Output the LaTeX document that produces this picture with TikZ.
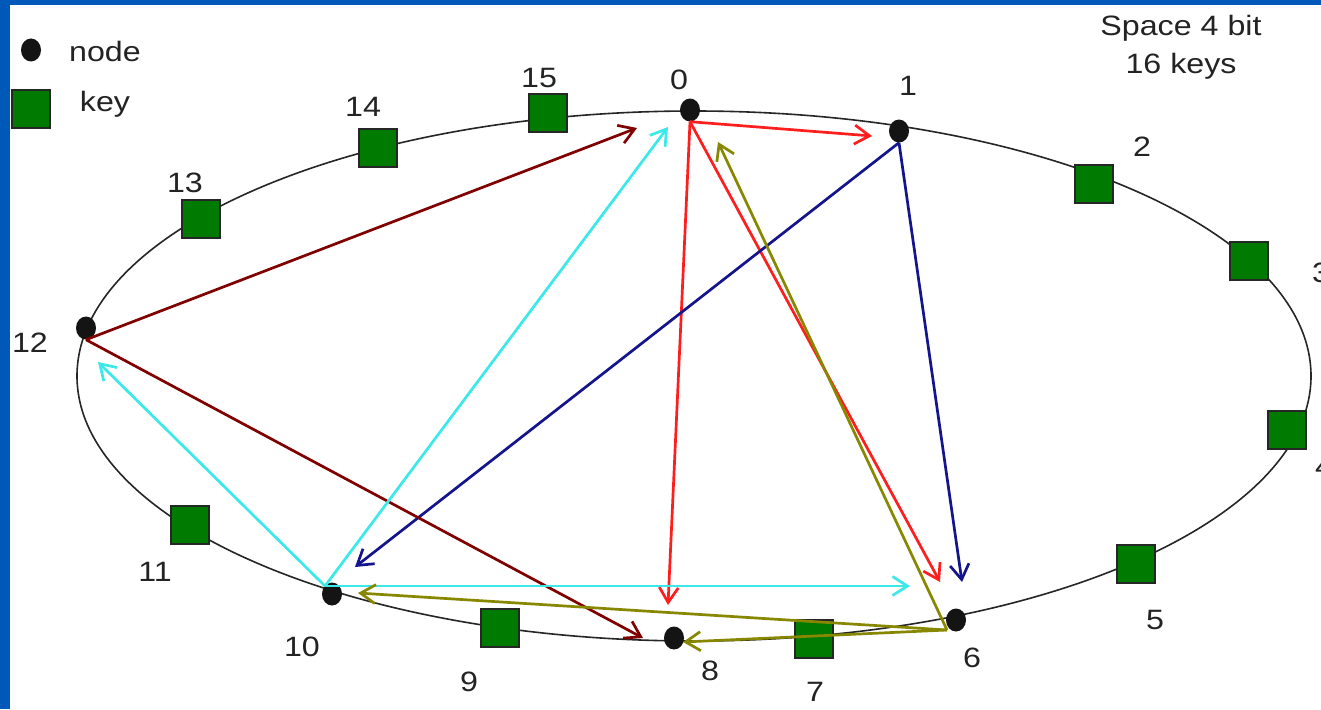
\documentclass[tikz,border=0pt]{standalone}
\usepackage{fontspec}
\setmainfont{Liberation Sans}[FakeStretch=1.15]
\usetikzlibrary{arrows.meta,shapes.geometric}
\definecolor{slideblue}{RGB}{0,88,184}
\definecolor{keygreen}{RGB}{0,122,0}
\definecolor{cyanarr}{RGB}{60,232,232}
\definecolor{redarr}{RGB}{255,30,30}
\definecolor{maroonarr}{RGB}{128,0,0}
\definecolor{navyarr}{RGB}{20,20,140}
\definecolor{olivearr}{RGB}{135,135,0}
\definecolor{txt}{RGB}{35,35,35}
\begin{document}
\begin{tikzpicture}[x=1pt,y=-1pt,
  dot/.style={ellipse,fill=black!92,inner sep=0pt,minimum width=20pt,minimum height=23pt},
  keybox/.style={rectangle,fill=keygreen,draw=black!85,line width=1.2pt,inner sep=0pt,minimum size=38pt},
  lbl/.style={text=txt,font=\fontsize{28}{38}\selectfont,inner sep=0pt},
  arr/.style={line width=2.7pt,-{Straight Barb[length=15pt,width=19pt,line width=2.7pt]}}]
\useasboundingbox (0,0) rectangle (1321,709);
\clip (0,0) rectangle (1321,709);
\fill[white] (0,0) rectangle (1321,709);
\fill[slideblue] (0,0) rectangle (10,709);
\fill[slideblue] (0,0) rectangle (1321,5);

% ring
\draw[line width=1.6pt,black!85] (694,376) ellipse [x radius=617pt, y radius=265pt];

% keys
\node[keybox] (k2)  at (1094,184) {};
\node[keybox] (k3)  at (1249,261) {};
\node[keybox] (k4)  at (1287,430) {};
\node[keybox] (k5)  at (1136,564) {};
\node[keybox] (k7)  at (814,639) {};
\node[keybox] (k9)  at (500,628) {};
\node[keybox] (k11) at (190,525) {};
\node[keybox] (k13) at (201,219) {};
\node[keybox] (k14) at (378,148) {};
\node[keybox] (k15) at (548,113) {};

% nodes
\node[dot] (n0)  at (690,110) {};
\node[dot] (n1)  at (899,131) {};
\node[dot] (n6)  at (956,620) {};
\node[dot] (n8)  at (674,638) {};
\node[dot] (n10) at (332,594) {};
\node[dot] (n12) at (86,328) {};

% labels
\node[lbl] (l0)  at (679,80)  {0};
\node[lbl] (l1)  at (908,86)  {1};
\node[lbl] (l2)  at (1142,147) {2};
\node[lbl,anchor=west] (l3) at (1312,273) {3};
\node[lbl,anchor=west] (l4) at (1315,467) {4};
\node[lbl] (l5)  at (1155,620) {5};
\node[lbl] (l6)  at (972,658) {6};
\node[lbl] (l7)  at (815,692) {7};
\node[lbl] (l8)  at (710,671) {8};
\node[lbl] (l9)  at (469,682) {9};
\node[lbl] (l10) at (302,647) {10};
\node[lbl] (l11) at (155,572) {11};
\node[lbl] (l12) at (30,343)  {12};
\node[lbl] (l13) at (185,183) {13};
\node[lbl] (l14) at (363,107) {14};
\node[lbl] (l15) at (539,78)  {15};
\node[lbl,align=center] (title) at (1181,47) {Space 4 bit\\16 keys};

% legend
\node[dot] (legdot) at (31,50) {};
\node[lbl] (legnode) at (105,51) {node};
\node[keybox] (legkey) at (31,109) {};
\node[lbl] (legkeyt) at (105,104) {key};

% arrow tips
\coordinate (t01)  at (872,136);
\coordinate (t08)  at (668,605);
\coordinate (t06)  at (940,582);
\coordinate (t16)  at (962,582);
\coordinate (t110) at (355,567);
\coordinate (t120) at (637,128);
\coordinate (t128) at (643,638);
\coordinate (t100) at (668,127);
\coordinate (t1012) at (98,362);
\coordinate (t106) at (910,586);
\coordinate (t60)  at (718,142);
\coordinate (t610) at (358,593);
\coordinate (t68)  at (683,642);
\coordinate (o10)  at (325,586);
\coordinate (o6)   at (947,630);

% red: from 0
\draw[arr,redarr] (n0.south) -- (t01);
\draw[arr,redarr] (n0.south) -- (t08);
\draw[arr,redarr] (n0.south) -- (t06);
% navy: from 1
\draw[arr,navyarr] (n1.south) -- (t16);
\draw[arr,navyarr] (n1.south) -- (t110);
% maroon: from 12
\draw[arr,maroonarr] (n12.south) -- (t120);
\draw[arr,maroonarr] (n12.south) -- (t128);
% cyan: from 10
\draw[arr,cyanarr] (o10) -- (t100);
\draw[arr,cyanarr] (o10) -- (t1012);
\draw[arr,cyanarr] (o10) -- (t106);
% olive: from 6
\draw[arr,olivearr] (o6) -- (t60);
\draw[arr,olivearr] (o6) -- (t610);
\draw[arr,olivearr] (o6) -- (t68);
\end{tikzpicture}
\end{document}
